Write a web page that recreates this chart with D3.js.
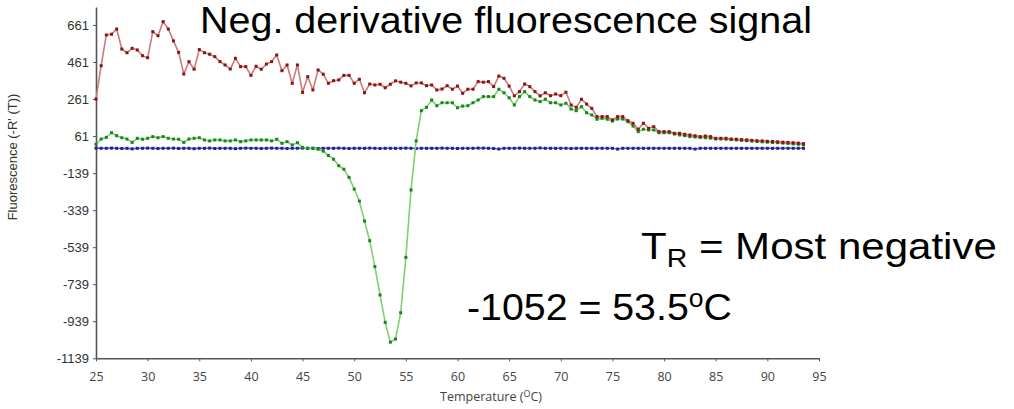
<!DOCTYPE html>
<html>
<head>
<meta charset="utf-8">
<script src="https://cdn.jsdelivr.net/npm/d3@7"></script>
<style>
  body { margin: 0; background: #fff; }
  svg { display: block; }
</style>
</head>
<body>
<svg id="chart" width="1014" height="409"></svg>
<script>
// temperatures run 25 .. 93.5 in 0.5 steps
let tStart = 25;
let tStep = 0.5;

let redValues = [
  261, 441, 607, 611, 639, 531, 511, 535, 526, 495,
  484, 625, 603, 679, 639, 575, 513, 396, 463, 422,
  528, 511, 503, 490, 463, 445, 423, 481, 436, 436,
  389, 438, 422, 450, 463, 499, 414, 445, 346, 445,
  297, 382, 310, 418, 395, 346, 360, 364, 389, 389,
  346, 368, 295, 342, 337, 341, 322, 341, 359, 352,
  346, 332, 348, 348, 333, 337, 310, 315, 333, 314,
  331, 292, 314, 314, 355, 352, 355, 328, 385, 373,
  331, 278, 301, 342, 328, 301, 278, 295, 279, 288,
  279, 298, 229, 216, 260, 234, 211, 166, 166, 166,
  148, 166, 166, 144, 130, 98, 130, 103, 112, 85,
  85, 85, 76, 76, 71, 67, 63, 58, 61, 58,
  49, 49, 49, 45, 44, 42, 40, 38, 36, 35,
  33, 32, 30, 28, 27, 25, 23, 20
];

let greenValues = [
  17, 45, 54, 79, 63, 52, 45, 27, 49, 44,
  49, 58, 52, 58, 49, 45, 44, 27, 45, 49,
  52, 40, 35, 40, 40, 35, 35, 40, 31, 35,
  40, 40, 40, 40, 35, 44, 22, 31, 13, 25,
  0, -5, -5, -10, -20, -44, -64, -99, -118, -162,
  -225, -290, -398, -504, -644, -797, -945, -1052, -1035, -893,
  -594, -230, 35, 198, 216, 256, 225, 241, 241, 241,
  214, 223, 225, 241, 256, 274, 274, 274, 314, 295,
  268, 229, 274, 301, 274, 256, 247, 260, 241, 241,
  229, 238, 207, 198, 220, 187, 175, 152, 157, 152,
  142, 153, 153, 139, 115, 85, 98, 94, 94, 79,
  79, 79, 72, 67, 63, 58, 56, 54, 52, 50,
  45, 45, 44, 42, 40, 38, 36, 34, 32, 30,
  28, 26, 25, 23, 21, 19, 17, 14
];

let blueValues = [
  -4, -5, -5, -4, -5, -6, -5, -8, -5, -5,
  -4, -5, -6, -5, -5, -4, -6, -5, -5, -7,
  -5, -5, -4, -6, -5, -5, -5, -7, -5, -4,
  -5, -5, -6, -5, -4, -5, -5, -6, -5, -5,
  -4, -5, -5, -6, -5, -5, -5, -4, -5, -6,
  -5, -5, -5, -4, -5, -6, -5, -5, -5, -5,
  -4, -5, -6, -5, -5, -5, -5, -4, -5, -5,
  -6, -5, -5, -5, -4, -4, -5, -6, -9, -5,
  -5, -5, -4, -5, -5, -5, -3, -5, -5, -5,
  -5, -5, -6, -5, -5, -5, -5, -5, -5, -5,
  -5, -9, -5, -5, -5, -5, -5, -5, -5, -5,
  -5, -5, -5, -5, -5, -5, -9, -5, -5, -5,
  -5, -5, -5, -5, -5, -5, -5, -5, -5, -5,
  -5, -5, -5, -5, -5, -5, -5, -5
];

let xTicks = [25, 30, 35, 40, 45, 50, 55, 60, 65, 70, 75, 80, 85, 90, 95];
let yTicks = [-1139, -939, -739, -539, -339, -139, 61, 261, 461, 661];

let series = [
  {name: "blue", values: blueValues, line: "#5a62c8", dot: "#1c2490"},
  {name: "green", values: greenValues, line: "#7fcf74", dot: "#17861b"},
  {name: "red", values: redValues, line: "#cc7a7a", dot: "#8a1414"}
];

let svg = d3.select("#chart");

let x = d3.scaleLinear().domain([25, 95]).range([96, 819]);
let y = d3.scaleLinear().domain([-1139, 758]).range([358.3, 7]);

// axes
let xAxis = d3.axisBottom(x).tickValues(xTicks).tickSize(3).tickSizeOuter(0);
let gx = svg.append("g")
  .attr("transform", "translate(0," + y(-1139) + ")")
  .call(xAxis);
gx.select(".domain").attr("stroke", "#555").attr("stroke-width", 1.6);
gx.selectAll(".tick line").attr("stroke", "#555");
gx.selectAll(".tick text")
  .attr("fill", "#444")
  .attr("dy", "1.3em")
  .style("font-family", "'Open Sans', 'DejaVu Sans', sans-serif")
  .style("font-size", "12.5px");

let yAxis = d3.axisLeft(y).tickValues(yTicks).tickFormat(d => String(d))
  .tickSize(3).tickSizeOuter(0);
let gy = svg.append("g")
  .attr("transform", "translate(" + x(25) + ",0)")
  .call(yAxis);
gy.select(".domain").attr("stroke", "#555").attr("stroke-width", 1.6);
gy.selectAll(".tick line").attr("stroke", "#555");
gy.selectAll(".tick text")
  .attr("fill", "#333")
  .attr("x", -7)
  .style("font-family", "'Liberation Sans', Arial, sans-serif")
  .style("font-size", "13px");

// axis titles
let xTitle = svg.append("text")
  .attr("x", 491)
  .attr("y", 401)
  .attr("text-anchor", "middle")
  .attr("fill", "#444")
  .style("font-family", "'Open Sans', 'DejaVu Sans', sans-serif")
  .style("font-size", "12.5px");
xTitle.append("tspan").text("Temperature (");
xTitle.append("tspan").attr("dy", -4).style("font-size", "9px").text("O");
xTitle.append("tspan").attr("dy", 4).text("C)");

svg.append("text")
  .attr("transform", "translate(17,157) rotate(-90)")
  .attr("text-anchor", "middle")
  .attr("fill", "#333")
  .style("font-family", "'Liberation Sans', Arial, sans-serif")
  .style("font-size", "13px")
  .text("Fluorescence (-R' (T))");

// series
let line = d3.line()
  .x((d, i) => x(tStart + i * tStep))
  .y(d => y(d));

series.forEach(s => {
  let g = svg.append("g").attr("class", "series-" + s.name);
  g.append("path")
    .datum(s.values)
    .attr("fill", "none")
    .attr("stroke", s.line)
    .attr("stroke-width", 1.6)
    .attr("stroke-linejoin", "round")
    .attr("d", line);
  g.selectAll("rect")
    .data(s.values)
    .enter().append("rect")
    .attr("x", (d, i) => x(tStart + i * tStep) - 1.5)
    .attr("y", d => y(d) - 1.5)
    .attr("width", 3)
    .attr("height", 3)
    .attr("fill", s.dot);
});

// annotations (slightly wide lettering, so stretch to the measured width)
let bigFont = "'Liberation Sans', Arial, sans-serif";

function bigText(px, py, width) {
  let t = svg.append("text")
    .style("font-family", bigFont)
    .style("font-size", "37px")
    .attr("fill", "#000");
  t.fit = () => {
    let w = t.node().getBBox().width;
    t.attr("transform", "translate(" + px + "," + py + ") scale(" + (width / w) + ",1)");
  };
  return t;
}

let title = bigText(200, 33, 612);
title.text("Neg. derivative fluorescence signal");
title.fit();

let tr = bigText(641, 259, 356);
tr.append("tspan").text("T");
tr.append("tspan").attr("dy", 8).style("font-size", "25px").text("R");
tr.append("tspan").attr("dy", -8).text(" = Most negative");
tr.fit();

let tm = bigText(467, 320, 265);
tm.append("tspan").text("-1052 = 53.5");
tm.append("tspan").attr("dy", -13).style("font-size", "25px").text("o");
tm.append("tspan").attr("dy", 13).text("C");
tm.fit();
</script>
</body>
</html>
